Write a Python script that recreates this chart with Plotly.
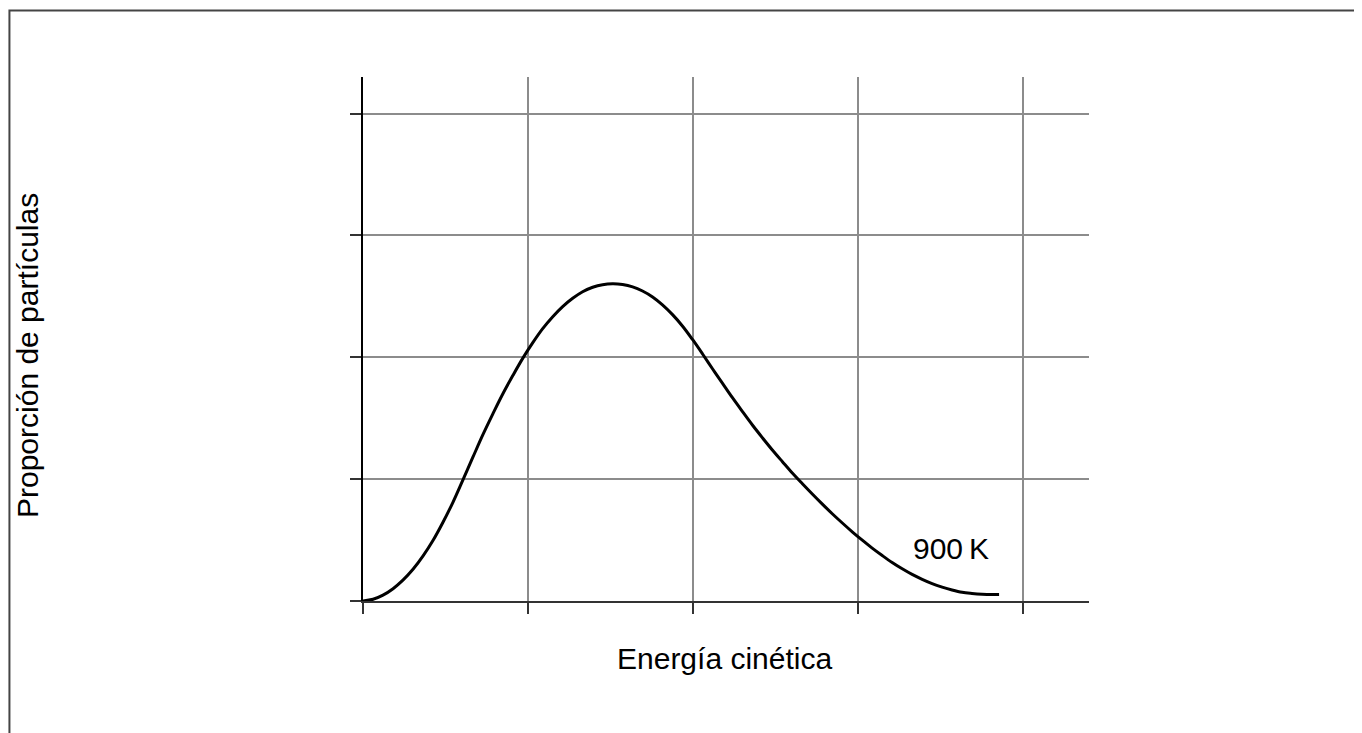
import plotly.graph_objects as go

# Curve values (kinetic energy, proportion of particles)
energy = [0.000, 0.061, 0.121, 0.182, 0.242, 0.303, 0.363, 0.424, 0.484, 0.545,
          0.605, 0.666, 0.726, 0.787, 0.847, 0.908, 0.968, 1.029, 1.089, 1.150,
          1.210, 1.271, 1.331, 1.392, 1.452, 1.513,
          1.573, 1.634, 1.694, 1.755, 1.815, 1.876, 1.937, 1.997, 2.058, 2.118,
          2.179, 2.239, 2.300, 2.360, 2.421, 2.481, 2.542, 2.602, 2.663, 2.723,
          2.784, 2.844, 2.905, 2.965, 3.026, 3.086, 3.147, 3.207, 3.268, 3.328,
          3.389, 3.449, 3.510, 3.570, 3.631, 3.691, 3.752, 3.812, 3.855]
proportion = [0.000, 0.014, 0.048, 0.101, 0.171, 0.260, 0.368, 0.496, 0.644, 0.810,
              0.992, 1.180, 1.363, 1.536, 1.699, 1.850, 1.991, 2.120, 2.235, 2.333,
              2.416, 2.484, 2.538, 2.575, 2.596, 2.603,
              2.597, 2.578, 2.544, 2.495, 2.430, 2.350, 2.255, 2.146, 2.027, 1.906,
              1.786, 1.668, 1.554, 1.444, 1.339, 1.239, 1.143, 1.050, 0.962, 0.878,
              0.795, 0.716, 0.640, 0.568, 0.499, 0.434, 0.373, 0.316, 0.264, 0.218,
              0.178, 0.143, 0.114, 0.090, 0.071, 0.062, 0.056, 0.053, 0.053]
x_ticks = [0, 1, 2, 3, 4]
y_ticks = [0, 1, 2, 3, 4]
curve_label = "900\u2009K"
x_title = "Energía cinética"
y_title = "Proporción de partículas"

FONT = "Liberation Sans, Arial, sans-serif"
FS = 30

fig = go.Figure()
fig.add_trace(go.Scatter(
    x=energy, y=proportion, mode="lines",
    line=dict(color="black", width=3, shape="spline", smoothing=1.0, simplify=False),
    cliponaxis=False, showlegend=False, hoverinfo="skip",
))

fig.add_annotation(x=3.565, y=0.43, xref="x", yref="y", text=curve_label, showarrow=False,
                   xanchor="center", yanchor="middle",
                   font=dict(family=FONT, size=FS, color="black"))

fig.add_annotation(x=0.4986, y=-0.109, xref="paper", yref="paper", text=x_title,
                   xanchor="center", yanchor="middle",
                   showarrow=False, font=dict(family=FONT, size=FS, color="black"))
fig.add_annotation(x=-0.4614, y=0.4676, xref="paper", yref="paper", text=y_title,
                   xanchor="center", yanchor="middle",
                   textangle=-90, showarrow=False, font=dict(family=FONT, size=FS, color="black"))

# outer frame
fig.add_shape(type="rect", xref="paper", yref="paper", x0=-0.487, y0=-1.0, x1=2.0, y1=1.127,
              line=dict(color="#444444", width=2), fillcolor="rgba(0,0,0,0)", layer="below")

fig.update_xaxes(range=[0, 4.4], tickvals=x_ticks, showticklabels=False,
                 ticks="outside", ticklen=11, tickwidth=1.5, tickcolor="#333333",
                 showgrid=True, gridcolor="#8c8c8c", gridwidth=1.5,
                 showline=True, linecolor="#333333", linewidth=1.5,
                 zeroline=False, fixedrange=True)
fig.update_yaxes(range=[0, 4.3], tickvals=y_ticks, showticklabels=False,
                 ticks="outside", ticklen=11, tickwidth=1.5, tickcolor="#333333",
                 showgrid=True, gridcolor="#8c8c8c", gridwidth=1.5,
                 showline=True, linecolor="black", linewidth=2,
                 zeroline=False, fixedrange=True)

fig.update_layout(
    width=1346, height=725,
    margin=dict(l=355, r=265, t=69, b=132),
    paper_bgcolor="white", plot_bgcolor="white",
    font=dict(family=FONT, size=FS, color="black"),
)

fig.write_html("out.html", config={"displayModeBar": False})
